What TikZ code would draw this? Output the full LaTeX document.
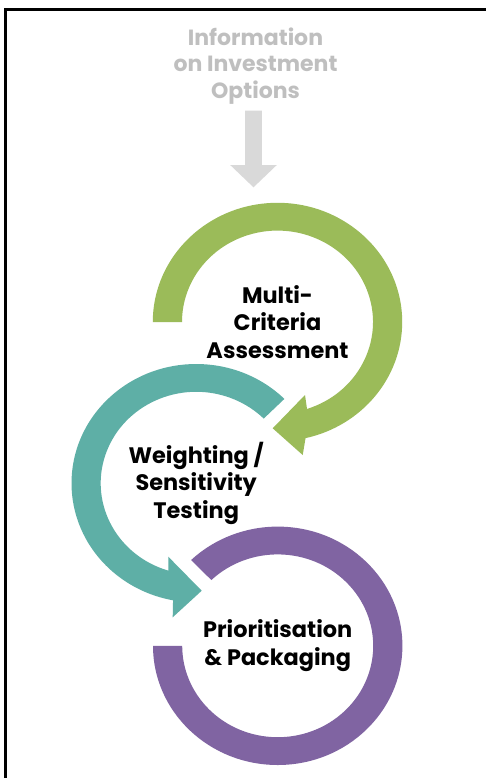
\documentclass[tikz,border=0pt]{standalone}
\usepackage{fontspec}
\setmainfont{Poppins}
\usetikzlibrary{calc}
\definecolor{ringgreen}{HTML}{9BBB59}
\definecolor{ringteal}{HTML}{5EAFA6}
\definecolor{ringpurple}{HTML}{8064A2}
\definecolor{infogray}{HTML}{BFBFBF}
\definecolor{arrowgray}{HTML}{D9D9D9}
\begin{document}
\begin{tikzpicture}[x=0.75pt,y=-0.75pt,
  lbl/.style={font=\bfseries\fontsize{16.8}{20.6}\selectfont, align=center, text=black, inner sep=0pt},
  infolbl/.style={font=\bfseries\fontsize{16.5}{19.6}\selectfont, align=center, text=infogray, inner sep=0pt}]
\useasboundingbox (0,0) rectangle (486,778);
\fill[white] (0,0) rectangle (486,778);
\draw[line width=2.25pt] (5.5,778) -- (5.5,9.5) -- (486,9.5);

\coordinate (gc) at (277.5,322);
\coordinate (tc) at (196.2,483.2);
\coordinate (pc) at (277.7,645.8);

% input arrow
\fill[arrowgray] (245.2,110.7) -- (261.8,110.7) -- (261.8,165) -- (276.8,165)
  -- (253.5,187.3) -- (230.2,165) -- (245.2,165) -- cycle;

% green ring arrow
\fill[ringgreen] ($(gc)+(180:124.7 and 119.2)$)
  arc[start angle=180, end angle=437, x radius=124.7, y radius=119.2]
  -- (302.7,455) -- (272.7,428.3) -- (305,395)
  -- ($(gc)+(432:95.5 and 91.4)$)
  arc[start angle=432, end angle=180, x radius=95.5, y radius=91.4]
  -- cycle;

% teal ring arrow
\fill[ringteal] ($(tc)+(-45:124.7 and 119.2)$)
  arc[start angle=-45, end angle=-259.3, x radius=124.7, y radius=119.2]
  -- (172.7,617.3) -- (201.7,590.7) -- (168.3,556.7)
  -- ($(tc)+(-253:95.5 and 91.4)$)
  arc[start angle=-253, end angle=-45, x radius=95.5, y radius=91.4]
  -- cycle;

% purple ring
\fill[ringpurple] ($(pc)+(180:124.7 and 119.2)$)
  arc[start angle=180, end angle=-134, x radius=124.7, y radius=119.2]
  -- ($(pc)+(-134:95.5 and 91.4)$)
  arc[start angle=-134, end angle=180, x radius=95.5, y radius=91.4]
  -- cycle;

\node[infolbl] (info) at (255.5,66) {Information\\on Investment\\Options};
\node[lbl] (mca) at (gc) {Multi-\\Criteria\\Assessment};
\node[lbl] (wst) at (tc) {Weighting /\\Sensitivity\\Testing};
\node[lbl] (pp) at (pc) {Prioritisation\\\& Packaging};
\end{tikzpicture}
\end{document}
